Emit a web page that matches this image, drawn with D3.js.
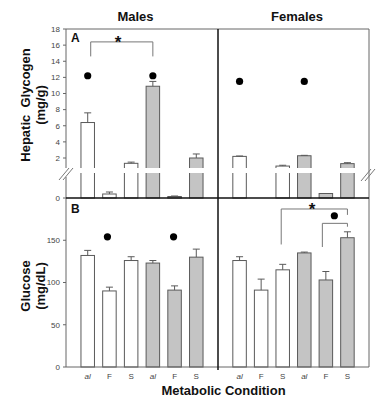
<!DOCTYPE html>
<html>
<head>
  <meta charset="utf-8">
  <script src="https://d3js.org/d3.v7.min.js"></script>
  <style>
    body { margin: 0; background: #fff; }
    text { font-family: "Liberation Sans", Arial, sans-serif; }
    .tick-label { font-size: 8px; fill: #444; }
    .bold { font-weight: bold; fill: #111; }
  </style>
</head>
<body>
<div id="chart"></div>
<script>
  // metabolic conditions per sex (white = first three, gray = last three)
  let conditions = ["al", "F", "S", "al", "F", "S"];
  let groupFill = ["white", "white", "white", "gray", "gray", "gray"];

  // Panel A: hepatic glycogen (mg/g)
  let glycogenMales = [6.4, 0.08, 1.34, 10.9, 0.03, 2.0];
  let glycogenMalesErr = [1.2, 0.04, 0.15, 0.6, 0.01, 0.5];
  let glycogenFemales = [2.2, null, 1.0, 2.28, 0.09, 1.3];
  let glycogenFemalesErr = [0.05, 0, 0.1, 0.05, 0, 0.12];

  // Panel B: glucose (mg/dL)
  let glucoseMales = [132, 90, 126, 123, 91, 130];
  let glucoseMalesErr = [6, 4.5, 4.5, 3, 5, 9.5];
  let glucoseFemales = [126, 91, 115, 135, 103, 153];
  let glucoseFemalesErr = [4.5, 13, 6.5, 1, 10, 7];

  let glycogenTicks = [0, 2, 4, 6, 8, 10, 12, 14, 16, 18];
  let glucoseTicks = [0, 50, 100, 150];

  let width = 378;
  let height = 401;

  let left = 66, mid = 218, right = 369;
  let plotTop = 29, zeroA = 198, zeroB = 367;
  let gapTop = 168, gapBottom = 173;

  let xMales = d3.scaleLinear().domain([0, 7]).range([left, mid]);
  let xFemales = d3.scaleLinear().domain([0, 7]).range([mid, right]);

  // broken axis: small lower segment, gap, then the main segment
  let yA = d3.scaleLinear().domain([0, 0.5, 0.76, 18]).range([zeroA, gapBottom, gapTop, plotTop]);
  let yB = d3.scaleLinear().domain([0, 200]).range([zeroB, zeroA]);

  let barW = 13.5;
  let gray = "#c4c4c4";
  let edge = "#5a5a5a";

  let svg = d3.select("#chart").append("svg")
    .attr("width", width)
    .attr("height", height);

  function drawBars(x, y, values, errs, zero) {
    let g = svg.append("g");
    values.forEach((v, i) => {
      if (v == null) return;
      let cx = x(i + 1);
      g.append("rect")
        .attr("x", cx - barW / 2)
        .attr("y", y(v))
        .attr("width", barW)
        .attr("height", zero - y(v))
        .attr("fill", groupFill[i] === "gray" ? gray : "#fff")
        .attr("stroke", edge)
        .attr("stroke-width", 1);
      if (errs[i] > 0) {
        g.append("line")
          .attr("x1", cx).attr("x2", cx)
          .attr("y1", y(v)).attr("y2", y(v + errs[i]))
          .attr("stroke", edge);
        g.append("line")
          .attr("x1", cx - 3.5).attr("x2", cx + 3.5)
          .attr("y1", y(v + errs[i])).attr("y2", y(v + errs[i]))
          .attr("stroke", edge);
      }
    });
  }

  drawBars(xMales, yA, glycogenMales, glycogenMalesErr, zeroA);
  drawBars(xFemales, yA, glycogenFemales, glycogenFemalesErr, zeroA);
  drawBars(xMales, yB, glucoseMales, glucoseMalesErr, zeroB);
  drawBars(xFemales, yB, glucoseFemales, glucoseFemalesErr, zeroB);

  // white gap of the axis break
  svg.append("rect")
    .attr("x", left - 1).attr("y", gapTop)
    .attr("width", right - left).attr("height", gapBottom - gapTop)
    .attr("fill", "#fff");

  // frame
  let frame = svg.append("g").attr("stroke", "#666").attr("fill", "none");
  frame.append("line").attr("x1", left).attr("x2", right).attr("y1", plotTop).attr("y2", plotTop);
  frame.append("line").attr("x1", right).attr("x2", right).attr("y1", plotTop).attr("y2", zeroB);
  frame.append("line").attr("x1", left).attr("x2", left).attr("y1", plotTop).attr("y2", gapTop);
  frame.append("line").attr("x1", left).attr("x2", left).attr("y1", gapBottom + 4).attr("y2", zeroB);
  frame.append("line").attr("x1", left).attr("x2", right).attr("y1", zeroB).attr("y2", zeroB);

  svg.append("line")
    .attr("x1", left).attr("x2", right).attr("y1", zeroA).attr("y2", zeroA)
    .attr("stroke", "#111").attr("stroke-width", 1.5);
  svg.append("line")
    .attr("x1", mid).attr("x2", mid).attr("y1", plotTop).attr("y2", zeroB + 3)
    .attr("stroke", "#111").attr("stroke-width", 1.5);

  // break marks
  [[left, gapTop + 6], [right - 1, gapTop + 7]].forEach(([bx, by]) => {
    [-2, 2].forEach(o => {
      svg.append("line")
        .attr("x1", bx - 5 + o).attr("y1", by + 6)
        .attr("x2", bx + 5 + o).attr("y2", by - 6)
        .attr("stroke", "#777");
    });
  });

  // y axes
  let axisA = svg.append("g");
  glycogenTicks.forEach(t => {
    axisA.append("line").attr("x1", left - 3).attr("x2", left)
      .attr("y1", yA(t)).attr("y2", yA(t)).attr("stroke", "#666");
    axisA.append("text").attr("class", "tick-label")
      .attr("x", left - 6).attr("y", yA(t)).attr("dy", "0.35em")
      .attr("text-anchor", "end").text(t);
  });
  let axisB = svg.append("g");
  glucoseTicks.forEach(t => {
    axisB.append("line").attr("x1", left - 3).attr("x2", left)
      .attr("y1", yB(t)).attr("y2", yB(t)).attr("stroke", "#666");
    axisB.append("text").attr("class", "tick-label")
      .attr("x", left - 6).attr("y", yB(t)).attr("dy", "0.35em")
      .attr("text-anchor", "end").text(t);
  });

  // x tick labels
  [xMales, xFemales].forEach(x => {
    conditions.forEach((c, i) => {
      svg.append("text").attr("class", "tick-label")
        .attr("x", x(i + 1)).attr("y", zeroB + 12)
        .attr("text-anchor", "middle")
        .style("font-style", c === "al" ? "italic" : "normal")
        .text(c);
    });
  });

  // titles and labels
  svg.append("text").attr("class", "bold").attr("x", 135.5).attr("y", 21)
    .attr("text-anchor", "middle").style("font-size", "13px").text("Males");
  svg.append("text").attr("class", "bold").attr("x", 297).attr("y", 21)
    .attr("text-anchor", "middle").style("font-size", "13px").text("Females");
  svg.append("text").attr("class", "bold").attr("x", 71).attr("y", 42)
    .style("font-size", "12px").text("A");
  svg.append("text").attr("class", "bold").attr("x", 71).attr("y", 213)
    .style("font-size", "12px").text("B");
  svg.append("text").attr("class", "bold").attr("x", 223.5).attr("y", 395)
    .attr("text-anchor", "middle").style("font-size", "13px").text("Metabolic Condition");

  function yTitle(lines, cy) {
    lines.forEach((l, k) => {
      svg.append("text").attr("class", "bold")
        .attr("transform", `translate(${25 + k * 15},${cy}) rotate(-90)`)
        .attr("text-anchor", "middle").attr("dy", "0.35em")
        .style("font-size", "13px")
        .text(l);
    });
  }
  yTitle(["Hepatic\u00a0\u00a0Glycogen", "(mg/g)"], 105);
  yTitle(["Glucose", "(mg/dL)"], 286);

  // significance markers
  function dot(x, y) {
    svg.append("circle").attr("cx", x).attr("cy", y).attr("r", 3.6).attr("fill", "#000");
  }
  dot(xMales(1), yA(12.2));
  dot(xMales(4), yA(12.2));
  dot(xFemales(1), yA(11.5));
  dot(xFemales(4), yA(11.5));
  dot(xMales(2) - 2, yB(154));
  dot(xMales(5) - 1, yB(154));
  dot(xFemales(5) + 8.5, yB(179));

  function bracket(x1, x2, yTop, yL, yR) {
    svg.append("path")
      .attr("d", `M${x1},${yL}V${yTop}H${x2}V${yR}`)
      .attr("fill", "none").attr("stroke", "#777");
  }
  function star(x, y) {
    svg.append("text").attr("class", "bold").attr("x", x).attr("y", y)
      .attr("text-anchor", "middle").style("font-size", "17px").text("*");
  }
  bracket(xMales(1) + 3, xMales(4), yA(16.4), yA(14.6), yA(14.6));
  star(118, 48);
  bracket(xFemales(3) - 1.5, xFemales(6), yB(187), yB(145), yB(180));
  star(312, 215);
  bracket(xFemales(5) - 3.5, xFemales(6), yB(170), yB(142), yB(166));
</script>
</body>
</html>
